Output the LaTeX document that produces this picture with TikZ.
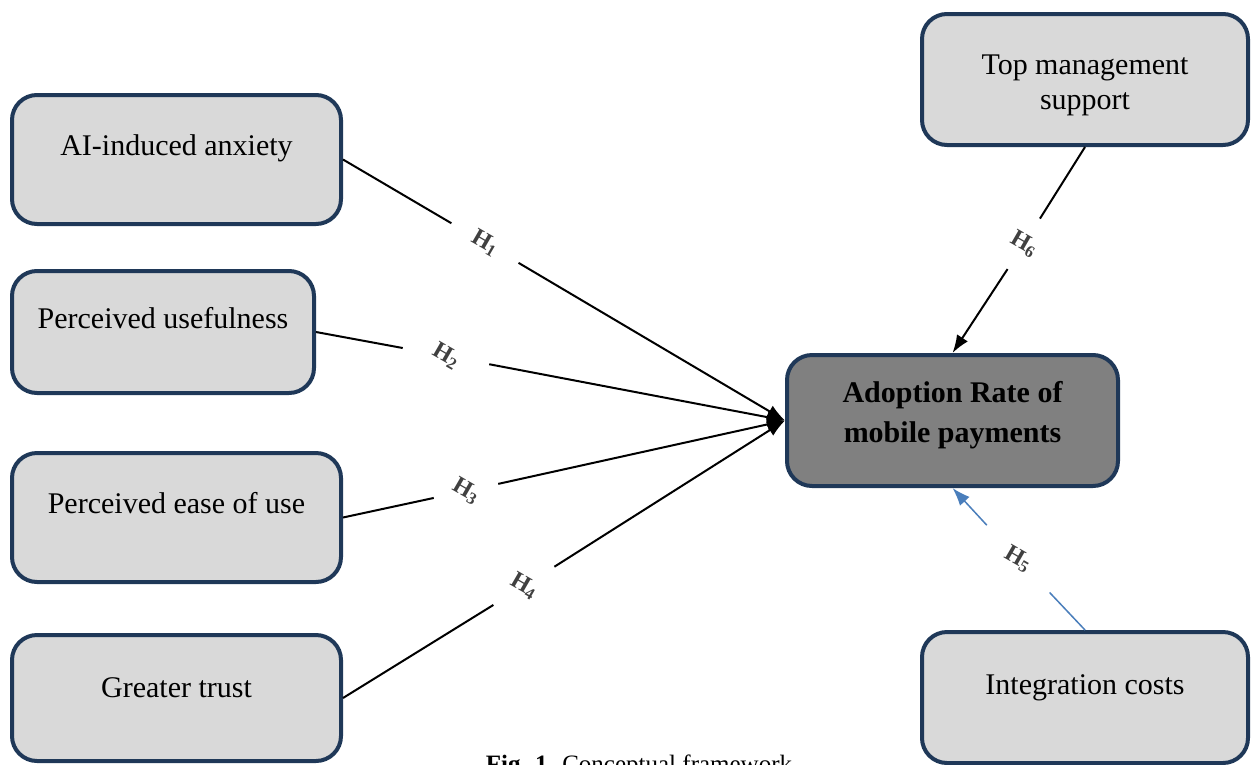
\documentclass[tikz,border=0pt]{standalone}
\usepackage{fontspec}
\setmainfont{Liberation Serif}
\usetikzlibrary{arrows.meta,positioning}
\definecolor{cardline}{RGB}{31,56,88}
\definecolor{cardfill}{RGB}{217,217,217}
\definecolor{mainfill}{RGB}{128,128,128}
\definecolor{hypo}{RGB}{64,64,64}
\definecolor{costline}{RGB}{74,126,187}

\begin{document}
\begin{tikzpicture}[x=1pt,y=-1pt,>={Latex[length=18pt,width=13pt]},line width=2pt]
\tikzstyle{card}=[rectangle,rounded corners=25pt,draw=cardline,line width=4pt,fill=cardfill,minimum width=329pt,inner sep=0pt,text height=60pt,align=center,font=\fontsize{30}{35}\selectfont]
\tikzstyle{core}=[card,fill=mainfill,minimum width=331pt,text height=87pt,text depth=44pt,font=\fontsize{30}{40}\selectfont\bfseries]
\tikzstyle{hyp}=[circle,inner sep=0pt,rotate=-30,text=hypo,font=\fontsize{24}{24}\selectfont\bfseries]

\useasboundingbox (0,0) rectangle (1251,764);

\node[card,text depth=69pt] (anxiety) at (176.5,159.5) {AI-induced anxiety};
\node[card,minimum width=302pt,text height=57pt,text depth=65pt] (useful) at (163,332) {Perceived usefulness};
\node[card,text depth=69pt] (ease) at (176.5,517.5) {Perceived ease of use};
\node[card,text height=62pt,text depth=64pt] (trust) at (176.5,698) {Greater trust};
\node[card,minimum width=326pt,text height=95pt,text depth=36pt] (topmgmt) at (1085,79.5) {Top management\\support};
\node[card,minimum width=326pt,text height=62pt,text depth=69pt] (integr) at (1085,697.5) {Integration costs};
\node[core] (adopt) at (952.5,420.5) {Adoption Rate of\\mobile payments};

\node[hyp,minimum size=76pt] (h1) at (485,243) {H\textsubscript{1}};
\node[hyp,minimum size=86pt] (h2) at (446,356) {H\textsubscript{2}};
\node[hyp,minimum size=64pt] (h3) at (466,491) {H\textsubscript{3}};
\node[hyp,minimum size=70pt] (h4) at (524,586) {H\textsubscript{4}};
\node[hyp,minimum size=90pt] (h5) at (1018,559) {H\textsubscript{5}};
\node[hyp,minimum size=58pt] (h6) at (1024,244) {H\textsubscript{6}};

\draw (anxiety.east) -- (h1);
\draw[->] (h1) -- (adopt.west);
\draw (useful.east) -- (h2);
\draw[->] (h2) -- (adopt.west);
\draw (ease.east) -- (h3);
\draw[->] (h3) -- (adopt.west);
\draw (trust.east) -- (h4);
\draw[->] (h4) -- (adopt.west);
\draw (topmgmt.south) -- (h6);
\draw[->] (h6) -- (adopt.north);
\draw[costline,line width=1.5pt] (integr.north) -- (h5);
\draw[costline,line width=1.5pt,->] (h5) -- (adopt.south);

\node[anchor=base,font=\fontsize{25}{25}\selectfont] (caption) at (639,772) {\textbf{Fig. 1.} Conceptual framework};
\end{tikzpicture}
\end{document}
